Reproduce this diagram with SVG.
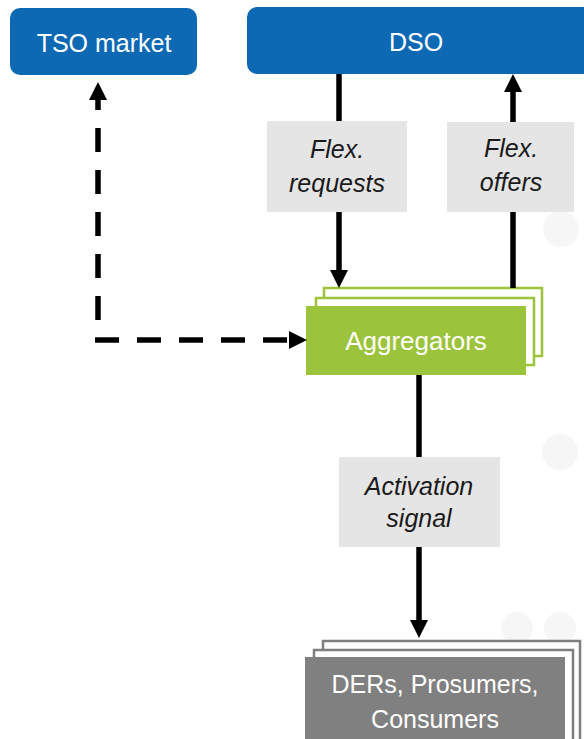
<svg xmlns="http://www.w3.org/2000/svg" width="584" height="739" viewBox="0 0 584 739">
  <style>
    .box-text { font-family: "Liberation Sans", Arial, sans-serif; font-size: 25px; fill: #ffffff; text-anchor: middle; }
    .lbl-text { font-family: "Liberation Sans", Arial, sans-serif; font-size: 25px; font-style: italic; fill: #1a1a1a; text-anchor: middle; }
    .blue { fill: #0E69B4; }
    .lbl { fill: #E6E5E6; }
    .line { stroke: #000000; stroke-width: 5.5; fill: none; }
    .dash { stroke-dasharray: 24 18; }
    .g-back { fill: #ffffff; stroke: #9BC33B; stroke-width: 2.5; }
    .d-back { fill: #ffffff; stroke: #7F7F7F; stroke-width: 2.5; }
    .bgc { fill: #f6f6f6; }
  </style>
  <defs>
    <marker id="arrow" markerUnits="userSpaceOnUse" markerWidth="18" markerHeight="18" viewBox="0 0 18 18" refX="0" refY="9" orient="auto">
      <path d="M0,0 L18,9 L0,18 Z" fill="#000000"/>
    </marker>
  </defs>

  <rect width="584" height="739" fill="#ffffff"/>

  <g id="background">
    <circle class="bgc" cx="561" cy="229" r="18"/>
    <circle class="bgc" cx="560" cy="452" r="18"/>
    <circle class="bgc" cx="517" cy="628" r="16"/>
    <circle class="bgc" cx="560" cy="628" r="16"/>
  </g>

  <g id="tso-market">
    <rect class="blue" x="10" y="8" width="187" height="67" rx="10"/>
    <text class="box-text" x="104" y="52">TSO market</text>
  </g>

  <g id="dso">
    <rect class="blue" x="247" y="7" width="347" height="67" rx="10"/>
    <text class="box-text" x="416" y="51">DSO</text>
  </g>

  <g id="aggregators">
    <rect class="g-back" x="324" y="288" width="218" height="68"/>
    <rect class="g-back" x="316" y="298" width="218" height="67"/>
    <rect x="306" y="306" width="220" height="69" fill="#9BC33B"/>
    <text class="box-text" x="416" y="350" style="font-size:26px">Aggregators</text>
  </g>

  <g id="ders">
    <rect class="d-back" x="323" y="641" width="257" height="110"/>
    <rect class="d-back" x="314" y="650" width="259" height="110"/>
    <rect x="305" y="657" width="260" height="100" fill="#808080"/>
    <text class="box-text" x="435" y="693">DERs, Prosumers,</text>
    <text class="box-text" x="435" y="728">Consumers</text>
  </g>

  <g id="connectors">
    <!-- Flex. requests: DSO -> Aggregators -->
    <path class="line" d="M339,74 V122"/>
    <path class="line" d="M339,212 V270" marker-end="url(#arrow)"/>
    <!-- Flex. offers: Aggregators -> DSO -->
    <path class="line" d="M513,288 V212"/>
    <path class="line" d="M513,122 V92" marker-end="url(#arrow)"/>
    <!-- Activation signal: Aggregators -> DERs -->
    <path class="line" d="M419,375 V457"/>
    <path class="line" d="M419,547 V620" marker-end="url(#arrow)"/>
    <!-- Dashed TSO link -->
    <path class="line dash" d="M98,320 V100" marker-end="url(#arrow)"/>
    <path class="line dash" d="M95,340 H289" marker-end="url(#arrow)"/>

    <g id="label-requests">
      <rect class="lbl" x="267" y="121" width="140" height="91"/>
      <text class="lbl-text" x="337" y="158">Flex.</text>
      <text class="lbl-text" x="337" y="192">requests</text>
    </g>
    <g id="label-offers">
      <rect class="lbl" x="447" y="122" width="127" height="90"/>
      <text class="lbl-text" x="511" y="157">Flex.</text>
      <text class="lbl-text" x="511" y="191">offers</text>
    </g>
    <g id="label-activation">
      <rect class="lbl" x="339" y="457" width="161" height="90"/>
      <text class="lbl-text" x="419" y="495">Activation</text>
      <text class="lbl-text" x="419" y="527">signal</text>
    </g>
  </g>
</svg>
